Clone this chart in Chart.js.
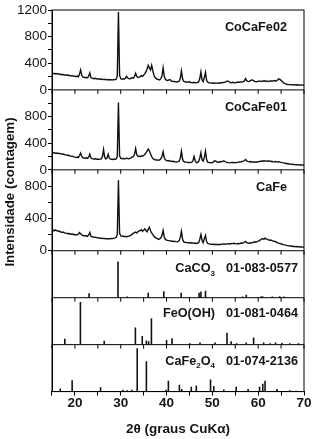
<!DOCTYPE html>
<html><head><meta charset="utf-8">
<script src="https://cdn.jsdelivr.net/npm/chart.js@4.4.1/dist/chart.umd.min.js"></script>
<style>html,body{margin:0;padding:0;background:#fff}#wrap{position:relative;width:314px;height:439px}</style>
</head><body><div id="wrap"><canvas id="c"></canvas></div>
<script>
// ---- DATA ----
const xTicks = [15, 20, 25, 30, 35, 40, 45, 50, 55, 60, 65, 70];
const xTickLabels = ['', '20', '', '30', '', '40', '', '50', '', '60', '', '70'];
const sampleNames = ['CoCaFe02', 'CoCaFe01', 'CaFe'];
const yTickLabels = [0, 400, 800, 1200];

// 2θ grid, 0.25° steps from 15 to 70
const twoTheta = Array.from({length: 221}, (_, i) => 15 + i * 0.25);

const coCaFe02 = [
 248,242,250,240, 245,238,242,232, 236,228,232,222, 226,220,224,214, 218,210,214,205,
 206,198,210,196, 235,300,220,192, 190,184,188,180, 205,255,185,176, 172,168,175,164,
 168,160,166,158, 162,155,160,152, 158,150,156,150, 154,148,158,152, 160,210,1170,220,
 170,162,168,160, 175,205,180,170, 168,175,185,178, 200,250,205,188, 192,200,215,205,
 225,240,275,310, 370,330,300,370, 290,220,190,170, 160,155,150,170, 210,330,200,160,
 145,140,150,155, 135,130,125,128, 122,120,125,130, 175,285,165,130, 122,118,120,115,
 125,112,110,108, 115,108,110,112, 120,170,270,150, 125,190,265,140, 115,108,105,102,
 104,100,105,100, 102,106,100,104, 108,112,110,118, 125,135,128,118, 112,108,114,110,
 108,112,115,118, 114,120,118,125, 135,170,140,128, 125,138,148,150, 140,128,122,125,
 130,128,135,125, 130,140,128,135, 130,125,132,138, 130,135,140,132, 138,150,165,158,
 140,125,110,98, 90,85,82,80, 80,78,80,76, 78,75,78,74, 76,72,75,72,
 70];

const coCaFe01 = [
 265,255,260,248, 252,245,250,240, 242,235,238,228, 225,218,222,212, 210,202,205,195,
 190,186,192,185, 215,250,200,180, 178,175,180,172, 190,235,180,168, 165,160,168,158,
 162,156,160,165, 200,305,190,165, 180,235,175,160, 158,155,162,158, 165,200,1010,210,
 175,165,172,162, 168,175,170,165, 172,178,190,200, 230,320,230,200, 205,198,210,205,
 215,230,255,280, 310,285,240,200, 170,160,150,148, 150,145,150,165, 200,270,180,150,
 140,135,140,132, 128,125,128,122, 120,118,122,130, 175,280,160,125, 118,115,112,110,
 112,108,115,130, 200,140,110,108, 125,175,255,150, 130,190,280,150, 115,110,108,105,
 110,120,135,130, 120,112,118,125, 120,128,135,125, 115,110,108,105, 108,112,110,105,
 110,108,112,115, 118,120,125,130, 140,155,135,128, 122,125,118,120, 118,115,120,118,
 122,125,130,128, 135,130,138,132, 128,135,130,125, 128,122,120,125, 120,118,122,115,
 112,108,105,100, 98,92,95,88, 85,82,84,80, 78,75,78,74, 76,72,74,72,
 70];

const caFe = [
 240,255,245,258, 250,240,246,235, 232,225,230,220, 218,212,216,208, 210,204,206,200,
 198,195,200,205, 225,210,195,188, 186,182,185,178, 195,225,180,172, 170,165,168,162,
 160,156,158,152, 155,150,152,148, 150,146,150,148, 152,150,156,160, 165,200,870,215,
 185,178,182,175, 178,172,176,180, 185,192,205,215, 225,232,220,235, 245,250,260,240,
 255,270,250,235, 265,290,250,220, 200,180,165,155, 150,140,145,160, 190,250,170,140,
 132,128,125,122, 120,118,115,118, 112,110,115,125, 165,240,140,110, 105,102,100,98,
 100,96,98,95, 92,95,90,92, 100,140,200,130, 100,150,190,110, 90,85,82,80,
 82,78,80,76, 78,80,76,78, 80,82,85,80, 82,85,88,84, 86,90,88,92,
 88,85,90,86, 90,95,92,98, 105,115,100,95, 92,98,95,100, 105,110,105,112,
 118,125,135,145, 150,140,155,148, 140,135,130,132, 125,120,118,112, 105,98,95,90,
 85,80,75,72, 70,66,64,60, 58,55,56,52, 52,50,52,48, 50,46,48,45,
 45];

// reference patterns (stick positions, relative intensities)
const caco3Pos = [23.1, 29.4, 31.4, 36.0, 39.4, 43.2, 47.1, 47.5, 48.5, 56.6, 57.4, 60.7, 61.0, 63.1, 64.7, 65.6];
const caco3Int = [12, 100, 3, 14, 18, 14, 14, 17, 19, 3, 8, 4, 3, 3, 4, 3];
const feoohPos = [17.8, 21.2, 26.4, 33.2, 34.7, 35.6, 36.1, 36.7, 40.0, 41.2, 45.1, 47.3, 50.6, 53.2, 54.1, 55.3, 57.4, 59.0, 61.2, 62.6, 63.8, 65.2, 66.9, 68.8];
const feoohInt = [14, 100, 9, 40, 20, 10, 8, 62, 11, 15, 3, 5, 5, 28, 8, 3, 5, 17, 5, 3, 5, 4, 3, 3];
const cafe2o4Pos = [16.8, 19.4, 25.6, 30.5, 31.4, 32.4, 33.6, 35.6, 39.9, 40.4, 42.8, 43.3, 45.4, 46.5, 49.6, 50.3, 52.5, 55.2, 57.8, 60.3, 61.0, 61.5, 64.1, 66.9, 68.3];
const cafe2o4Int = [7, 26, 10, 4, 3, 4, 100, 70, 4, 25, 16, 6, 11, 14, 28, 13, 5, 11, 6, 11, 18, 25, 6, 3, 2];

const refFormulas = [[['CaCO', 0], ['3', 1]], [['FeO(OH)', 0]], [['CaFe', 0], ['2', 1], ['O', 0], ['4', 1]]];
const refCards = ['01-083-0577', '01-081-0464', '01-074-2136'];
const yTitle = 'Intensidade (contagem)';
const xTitle = '2θ (graus CuKα)';

// ---- BUILD ----
[coCaFe02, coCaFe01, caFe].forEach((a, i) => { if (a.length !== twoTheta.length) console.error('length mismatch', i, a.length); });
const toPoints = ys => twoTheta.map((x, i) => ({x, y: ys[i]}));
const sticks = (pos, ints) => { const p = []; pos.forEach((x, i) => { p.push({x, y: 0}, {x, y: ints[i]}, {x, y: null}); }); return p; };

const FONT = '"Liberation Sans", Arial, sans-serif';
Chart.defaults.font.family = FONT;
Chart.defaults.color = '#151515';

const panelIds = ['y1', 'y2', 'y3', 'y4', 'y5', 'y6'];
const panelWeights = [80, 80, 81, 47, 47, 47];
const panelMax = [1200, 1200, 1000, 130, 110, 108];

const lineDs = (data, id) => ({data, yAxisID: id, borderColor: '#111', borderWidth: 1.4, pointRadius: 0, tension: 0, fill: false});
const stickDs = (data, id) => ({data, yAxisID: id, borderColor: '#111', borderWidth: 1.6, pointRadius: 0, tension: 0, fill: false, spanGaps: false});

const scales = {
  x: {
    type: 'linear', position: 'bottom', min: 15, max: 70,
    afterBuildTicks: s => { s.ticks = xTicks.map(v => ({value: v})); },
    ticks: {autoSkip: false, maxRotation: 0, padding: 0, font: {size: 13.5, weight: 'bold'},
      callback: (v) => { const i = xTicks.indexOf(v); return i >= 0 ? xTickLabels[i] : ''; }},
    grid: {drawOnChartArea: false, drawTicks: true, tickLength: 4, color: '#000'},
    border: {display: true, color: '#000', width: 1},
    title: {display: true, text: xTitle, font: {size: 13.5, weight: 'bold'}, padding: {top: 9, bottom: 2}, color: '#151515'}
  }
};
panelIds.forEach((id, i) => {
  const hasTicks = i < 3;
  scales[id] = {
    type: 'linear', position: 'left', stack: 'xrd', stackWeight: panelWeights[i], weight: 10 - i,
    min: 0, max: panelMax[i], offset: false,
    afterFit: s => { s.width = 34; },
    ticks: hasTicks ? {display: true, stepSize: 200, autoSkip: false, padding: 1, font: {size: 13.5},
      callback: (v) => (yTickLabels.includes(v) && !(i > 0 && v === panelMax[i])) ? String(v) : ''} : {display: false},
    grid: {display: hasTicks, drawOnChartArea: false, drawTicks: true, tickLength: 4, color: '#000'},
    border: {display: true, color: '#000', width: 1}
  };
});

const framePlugin = {
  id: 'frame',
  afterDraw(chart) {
    const {ctx, chartArea: a, scales: sc} = chart;
    ctx.save();
    ctx.strokeStyle = '#000';
    ctx.lineWidth = 1;
    ctx.strokeRect(a.left, a.top, a.right - a.left, a.bottom - a.top);
    // panel separators with downward x ticks
    panelIds.slice(0, 5).forEach(id => {
      const yb = sc[id].bottom;
      ctx.beginPath(); ctx.moveTo(a.left, yb); ctx.lineTo(a.right, yb); ctx.stroke();
      xTicks.forEach(v => { const px = sc.x.getPixelForValue(v); ctx.beginPath(); ctx.moveTo(px, yb); ctx.lineTo(px, yb + 4); ctx.stroke(); });
    });
    ctx.fillStyle = '#151515';
    ctx.textBaseline = 'middle';
    // sample names
    ctx.font = 'bold 12.7px ' + FONT;
    ctx.textAlign = 'right';
    const sampleOffsets = [17, 18, 17.5];
    sampleNames.forEach((t, i) => { ctx.fillText(t, a.right - 17, sc[panelIds[i]].top + sampleOffsets[i]); });
    // reference cards
    const refOffsets = [18, 15.5, 16.5];
    refCards.forEach((card, i) => {
      const yc = sc[panelIds[i + 3]].top + refOffsets[i];
      ctx.font = 'bold 12.7px ' + FONT;
      ctx.textAlign = 'right';
      const right = a.right - 6;
      ctx.fillText(card, right, yc);
      const cardLeft = right - ctx.measureText(card).width;
      const segs = refFormulas[i];
      let w = 0;
      segs.forEach(([s, sub]) => { ctx.font = (sub ? 'bold 8px ' : 'bold 12.7px ') + FONT; w += ctx.measureText(s).width; });
      let x = cardLeft - 11 - w;
      ctx.textAlign = 'left';
      segs.forEach(([s, sub]) => {
        ctx.font = (sub ? 'bold 8px ' : 'bold 12.7px ') + FONT;
        ctx.fillText(s, x, yc + (sub ? 5 : 0));
        x += ctx.measureText(s).width;
      });
    });
    // y title
    ctx.font = 'bold 13.3px ' + FONT;
    ctx.textAlign = 'center';
    ctx.translate(10, 192);
    ctx.rotate(-Math.PI / 2);
    ctx.fillText(yTitle, 0, 0);
    ctx.restore();
  }
};

new Chart(document.getElementById('c'), {
  type: 'line',
  data: {datasets: [
    lineDs(toPoints(coCaFe02), 'y1'),
    lineDs(toPoints(coCaFe01), 'y2'),
    lineDs(toPoints(caFe), 'y3'),
    stickDs(sticks(caco3Pos, caco3Int), 'y4'),
    stickDs(sticks(feoohPos, feoohInt), 'y5'),
    stickDs(sticks(cafe2o4Pos, cafe2o4Int), 'y6')
  ]},
  options: {
    responsive: true, maintainAspectRatio: false, animation: false, devicePixelRatio: 1,
    layout: {padding: {left: 18, right: 10, top: 10, bottom: 0}},
    plugins: {legend: {display: false}, tooltip: {enabled: false}},
    scales
  },
  plugins: [framePlugin]
});
</script></body></html>
